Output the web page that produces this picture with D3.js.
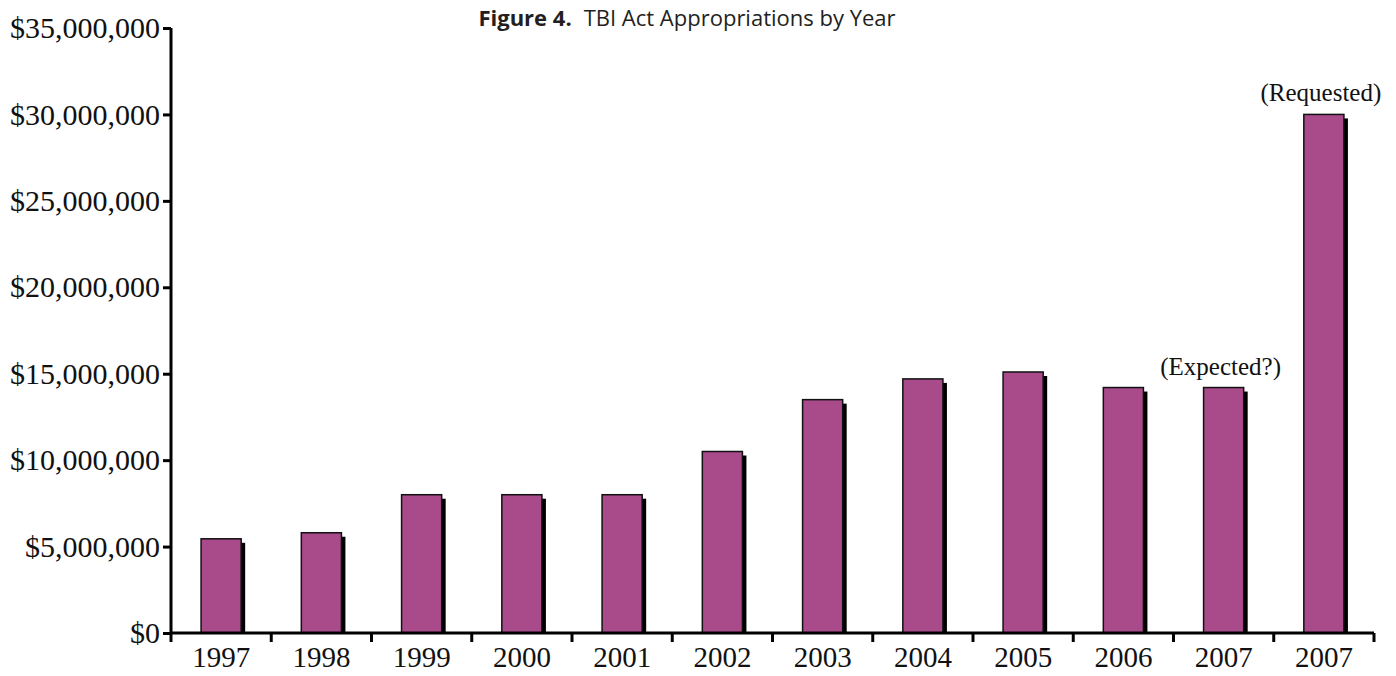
<!DOCTYPE html>
<html>
<head>
<meta charset="utf-8">
<script src="https://cdn.jsdelivr.net/npm/d3@7"></script>
<style>
  html, body { margin: 0; padding: 0; background: #fff; }
  svg { display: block; }
</style>
</head>
<body>
<svg id="chart" width="1396" height="676"></svg>
<script>
// ---- data ----
const categories = ["1997", "1998", "1999", "2000", "2001", "2002", "2003", "2004", "2005", "2006", "2007", "2007"];
const appropriations = [5450000, 5800000, 8000000, 8000000, 8000000, 10500000, 13500000, 14700000, 15100000, 14200000, 14200000, 30000000];
const annotations = ["", "", "", "", "", "", "", "", "", "", "(Expected?)", "(Requested)"];
const yTicks = [0, 5000000, 10000000, 15000000, 20000000, 25000000, 30000000, 35000000];
const titleBold = "Figure 4.";
const titleText = "TBI Act Appropriations by Year";

// ---- layout ----
const svg = d3.select("#chart");
const mLeft = 171, mRight = 1374, mTop = 28, mBottom = 633;
const serif = "'Liberation Serif', 'Times New Roman', serif";

const x = d3.scaleBand().domain(d3.range(categories.length)).range([mLeft, mRight]).padding(0);
const y = d3.scaleLinear().domain([0, 35000000]).range([mBottom, mTop]);
const barW = x.bandwidth() * 0.4;

// title
const title = svg.append("text")
  .attr("x", 687).attr("y", 26)
  .attr("text-anchor", "middle")
  .attr("font-family", "'Open Sans', 'Noto Sans', sans-serif")
  .attr("font-size", 22)
  .attr("fill", "#231f20");
title.append("tspan").attr("font-weight", "bold").text(titleBold);
title.append("tspan").attr("font-weight", "normal").attr("dx", 12).text(titleText);

// bars: shadow then bar
const bars = svg.append("g");
bars.selectAll("rect.shadow")
  .data(appropriations)
  .join("rect")
  .attr("class", "shadow")
  .attr("x", (d, i) => x(i) + (x.bandwidth() - barW) / 2 + 4)
  .attr("y", d => y(d) + 4)
  .attr("width", barW)
  .attr("height", d => y(0) - y(d) - 4)
  .attr("fill", "#000");

bars.selectAll("rect.bar")
  .data(appropriations)
  .join("rect")
  .attr("class", "bar")
  .attr("x", (d, i) => x(i) + (x.bandwidth() - barW) / 2)
  .attr("y", d => y(d))
  .attr("width", barW)
  .attr("height", d => y(0) - y(d))
  .attr("fill", "#a94a8b")
  .attr("stroke", "#111")
  .attr("stroke-width", 1.5);

// annotations
svg.append("g").selectAll("text")
  .data(annotations)
  .join("text")
  .attr("x", (d, i) => x(i) + x.bandwidth() / 2 - 3)
  .attr("y", (d, i) => y(appropriations[i]) - 13)
  .attr("text-anchor", "middle")
  .attr("font-family", serif)
  .attr("font-size", 25)
  .attr("fill", "#111")
  .text(d => d);

// y axis
const yAxis = svg.append("g")
  .attr("transform", `translate(${mLeft},0)`)
  .call(d3.axisLeft(y).tickValues(yTicks).tickFormat(d3.format("$,.0f")).tickSize(8).tickPadding(3));
yAxis.select(".domain").attr("stroke", "#000").attr("stroke-width", 3).attr("d", `M0,${mTop}V${mBottom}`);
yAxis.selectAll(".tick line").attr("stroke", "#000").attr("stroke-width", 3);
yAxis.selectAll(".tick text")
  .attr("font-family", serif).attr("font-size", 30).attr("fill", "#111");

// x axis: labels centered on bands, ticks at band boundaries
const xAxis = svg.append("g")
  .attr("transform", `translate(0,${mBottom})`)
  .call(d3.axisBottom(x).tickFormat(i => categories[i]).tickSize(0).tickPadding(13));
xAxis.select(".domain").attr("stroke", "#000").attr("stroke-width", 3).attr("d", `M${mLeft},0H${mRight}`);
xAxis.selectAll(".tick text")
  .attr("font-family", serif).attr("font-size", 29).attr("fill", "#111");

xAxis.selectAll("line.bound")
  .data(d3.range(categories.length + 1))
  .join("line")
  .attr("class", "bound")
  .attr("x1", i => i < categories.length ? x(i) : x.range()[1])
  .attr("x2", i => i < categories.length ? x(i) : x.range()[1])
  .attr("y1", 0).attr("y2", 9)
  .attr("stroke", "#000").attr("stroke-width", 3);
</script>
</body>
</html>
